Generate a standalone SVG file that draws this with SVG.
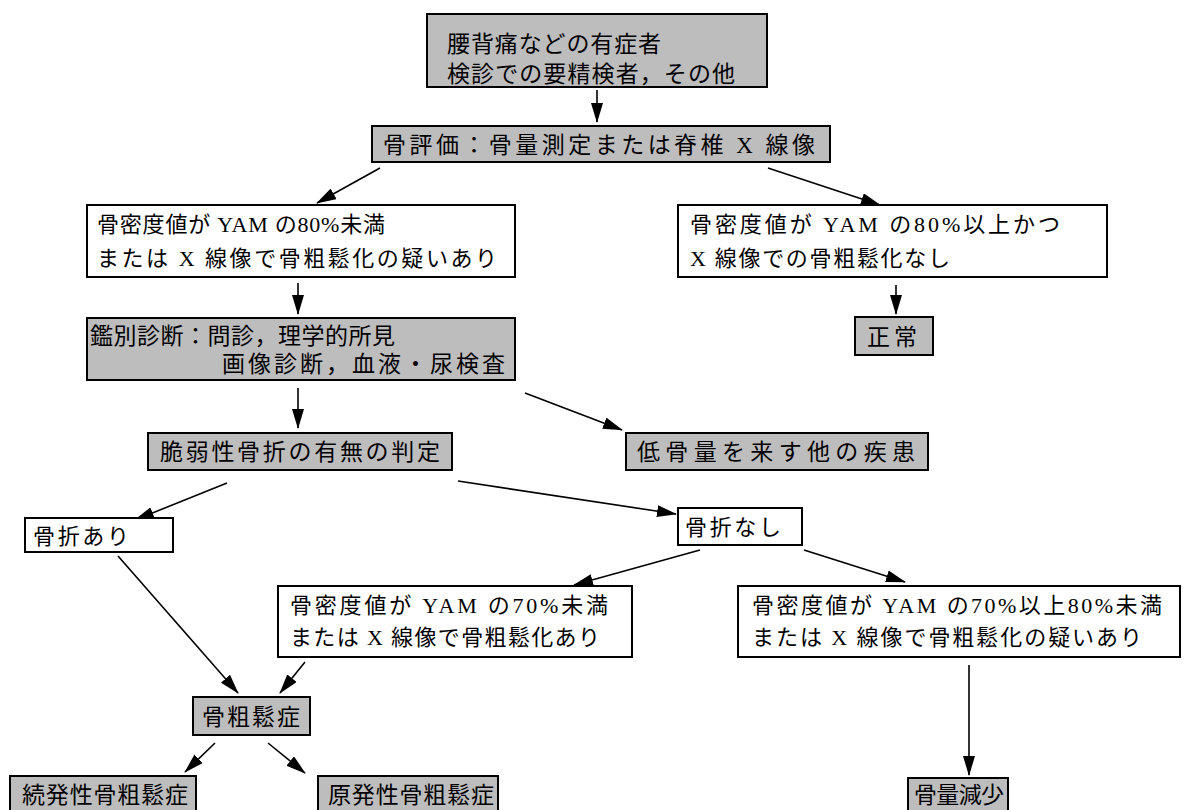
<svg xmlns="http://www.w3.org/2000/svg" width="1186" height="810" viewBox="0 0 1186 810">
<style>
.box{stroke:#000;stroke-width:2}
.sh{fill:#bdbdbd}
.wh{fill:#fff}
text{font-family:"Liberation Serif","Noto Sans CJK JP",serif;font-size:22px;fill:#000}
.st{font-size:23px}
.cn line{stroke:#000;stroke-width:1.6;marker-end:url(#ah)}
</style>
<defs>
<marker id="ah" markerUnits="userSpaceOnUse" markerWidth="20" markerHeight="12" refX="19" refY="6" orient="auto">
<path d="M0,0 L20,6 L0,12 z" fill="#000"/>
</marker>
</defs>
<rect width="1186" height="810" fill="#fff"/>
<g class="cn" id="connectors">
<line x1="597" y1="90" x2="597" y2="122"/>
<line x1="380" y1="168" x2="317" y2="203"/>
<line x1="768" y1="168" x2="880" y2="205"/>
<line x1="298" y1="283" x2="298" y2="314"/>
<line x1="896" y1="285" x2="896" y2="314"/>
<line x1="298" y1="388" x2="298" y2="428"/>
<line x1="525" y1="393" x2="622" y2="430"/>
<line x1="227" y1="483" x2="135" y2="520"/>
<line x1="458" y1="481" x2="676" y2="514"/>
<line x1="700" y1="550" x2="574" y2="585"/>
<line x1="804" y1="550" x2="905" y2="582"/>
<line x1="969" y1="665" x2="969" y2="775"/>
<line x1="118" y1="556" x2="238" y2="693"/>
<line x1="305" y1="662" x2="280" y2="693"/>
<line x1="215" y1="743" x2="185" y2="772"/>
<line x1="268" y1="743" x2="305" y2="773"/>
</g>
<g id="n1"><rect class="box sh" x="427" y="14" width="340" height="73"/>
<text class="st" x="447" y="52" textLength="214">腰背痛などの有症者</text>
<text class="st" x="447" y="82" textLength="288">検診での要精検者，その他</text></g>
<g id="n2"><rect class="box sh" x="372" y="126" width="458" height="36"/>
<text class="st" x="383" y="153" textLength="432">骨評価：骨量測定または脊椎 X 線像</text></g>
<g id="n3"><rect class="box wh" x="87" y="205" width="428" height="72"/>
<text x="97" y="232" textLength="288">骨密度値が YAM の80%未満</text>
<text x="97" y="266" textLength="400">または X 線像で骨粗鬆化の疑いあり</text></g>
<g id="n4"><rect class="box wh" x="678" y="205" width="429" height="72"/>
<text x="690" y="232" textLength="370">骨密度値が YAM の80%以上かつ</text>
<text x="690" y="266" textLength="260">X 線像での骨粗鬆化なし</text></g>
<g id="n5"><rect class="box sh" x="87" y="318" width="428" height="62"/>
<text class="st" x="90" y="344" textLength="305">鑑別診断：問診，理学的所見</text>
<text class="st" x="222" y="372" textLength="283">画像診断，血液・尿検査</text></g>
<g id="n6"><rect class="box sh" x="855" y="317" width="78" height="38"/>
<text class="st" x="867" y="345" textLength="50">正常</text></g>
<g id="n7"><rect class="box sh" x="148" y="433" width="304" height="37"/>
<text class="st" x="160" y="460" textLength="280">脆弱性骨折の有無の判定</text></g>
<g id="n8"><rect class="box sh" x="626" y="433" width="302" height="37"/>
<text class="st" x="637" y="460" textLength="278">低骨量を来す他の疾患</text></g>
<g id="n9"><rect class="box wh" x="25" y="518" width="148" height="34"/>
<text x="33" y="544" textLength="96">骨折あり</text></g>
<g id="n10"><rect class="box wh" x="678" y="508" width="124" height="37"/>
<text x="685" y="535" textLength="96">骨折なし</text></g>
<g id="n11"><rect class="box wh" x="278" y="586" width="354" height="71"/>
<text x="290" y="613" textLength="318">骨密度値が YAM の70%未満</text>
<text x="290" y="645" textLength="310">または X 線像で骨粗鬆化あり</text></g>
<g id="n12"><rect class="box wh" x="738" y="586" width="442" height="71"/>
<text x="752" y="613" textLength="410">骨密度値が YAM の70%以上80%未満</text>
<text x="752" y="645" textLength="390">または X 線像で骨粗鬆化の疑いあり</text></g>
<g id="n13"><rect class="box sh" x="193" y="697" width="117" height="38"/>
<text class="st" x="202" y="725" textLength="98">骨粗鬆症</text></g>
<g id="n14"><rect class="box sh" x="10" y="776" width="186" height="44"/>
<text class="st" x="22" y="803" textLength="166">続発性骨粗鬆症</text></g>
<g id="n15"><rect class="box sh" x="318" y="776" width="180" height="44"/>
<text class="st" x="328" y="803" textLength="166">原発性骨粗鬆症</text></g>
<g id="n16"><rect class="box sh" x="908" y="778" width="100" height="42"/>
<text class="st" x="914" y="803" textLength="90">骨量減少</text></g>
</svg>
